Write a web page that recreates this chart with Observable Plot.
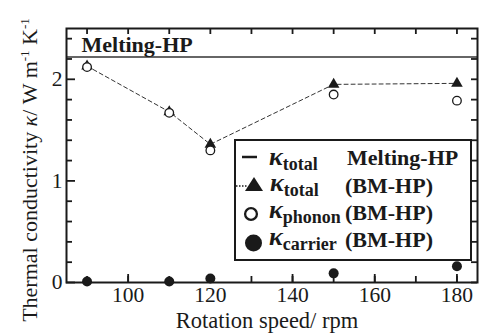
<!DOCTYPE html>
<html><head><meta charset="utf-8">
<script src="https://cdn.jsdelivr.net/npm/d3@7"></script>
<script src="https://cdn.jsdelivr.net/npm/@observablehq/plot@0.6"></script>
<style>
html,body{margin:0;padding:0;background:#fff;}
#chart{width:480px;height:336px;}
</style></head><body><div id="chart"></div>
<script>
// ---- data ----
const speeds = [90, 110, 120, 150, 180];
const kTotalBM = [2.13, 1.68, 1.36, 1.95, 1.96];
const kPhononBM = [2.12, 1.67, 1.30, 1.85, 1.79];
const kCarrierBM = [0.01, 0.01, 0.04, 0.09, 0.16];
const kTotalMelting = [2.22];
const xTickLabels = [100, 120, 140, 160, 180];
const xMinorTicks = [90, 100, 110, 120, 130, 140, 150, 160, 170, 180];
const yTickLabels = [0, 1, 2];
const yMinorTicks = [0.2, 0.4, 0.6, 0.8, 1.2, 1.4, 1.6, 1.8, 2.2, 2.4];
const meltingLabel = ["Melting-HP"];

const bm = speeds.map((s, i) => ({speed: s, total: kTotalBM[i], phonon: kPhononBM[i], carrier: kCarrierBM[i]}));

const W = 480, H = 336, mL = 66, mR = 3, mT = 28, mB = 54;
const iw = W - mL - mR, ih = H - mT - mB;
const serif = '"Liberation Serif", "Tinos", "Nimbus Roman", "DejaVu Serif", serif';
const ink = "#1a1a1a";
const tw = 1.8;

const plot = Plot.plot({
  width: W, height: H,
  marginLeft: mL, marginRight: mR, marginTop: mT, marginBottom: mB,
  x: {domain: [85, 185]},
  y: {domain: [0, 2.5]},
  style: {fontFamily: serif, fontSize: "21px", color: ink, background: "white"},
  marks: [
    Plot.ruleY(kTotalMelting, {stroke: "#333", strokeWidth: 1.5}),
    // bottom / top ticks
    Plot.tickX(xMinorTicks, {x: d => d, insetTop: ih - 6, stroke: ink, strokeWidth: tw}),
    Plot.tickX(xTickLabels, {x: d => d, insetTop: ih - 8, stroke: ink, strokeWidth: tw}),
    Plot.tickX(xMinorTicks, {x: d => d, insetBottom: ih - 6, stroke: ink, strokeWidth: tw}),
    // left / right ticks
    Plot.tickY(yMinorTicks, {y: d => d, insetRight: iw - 6, stroke: ink, strokeWidth: tw}),
    Plot.tickY(yTickLabels, {y: d => d, insetRight: iw - 9, stroke: ink, strokeWidth: tw}),
    Plot.tickY(yMinorTicks.concat(yTickLabels), {y: d => d, insetLeft: iw - 6, stroke: ink, strokeWidth: tw}),
    Plot.axisX(xTickLabels, {tickSize: 0, tickPadding: 4, fontSize: 21.5, label: null, tickFormat: d => String(d), fontFamily: serif}),
    Plot.axisY(yTickLabels, {tickSize: 0, tickPadding: 4, fontSize: 21.5, label: null, tickFormat: d => String(d), fontFamily: serif}),
    Plot.frame({stroke: ink, strokeWidth: 2}),
    Plot.text(meltingLabel, {frameAnchor: "top-left", text: d => d, dx: 15, dy: 23.5, textAnchor: "start", lineAnchor: "bottom", fontSize: 22, fontWeight: "bold", fill: ink, fontFamily: serif}),
    Plot.line(bm, {x: "speed", y: "total", stroke: "#333", strokeWidth: 1, strokeDasharray: "4,3"}),
    Plot.dot(bm, {x: "speed", y: "total", symbol: "triangle", r: 4.3, fill: ink, stroke: "none"}),
    Plot.dot(bm, {x: "speed", y: "phonon", symbol: "circle", r: 4.3, fill: "white", stroke: ink, strokeWidth: 1.3}),
    Plot.dot(bm, {x: "speed", y: "carrier", symbol: "circle", r: 5, fill: ink, stroke: "none"}),
    Plot.text(["Rotation speed/ rpm"], {frameAnchor: "bottom", text: d => d, dx: -5, dy: 38, lineAnchor: "middle", fontSize: 22.5, fill: ink, fontFamily: serif})
  ]
});

document.getElementById("chart").appendChild(plot);

const svg = d3.select(plot);
// y-axis title with superscripts
const yt = svg.append("text")
  .attr("transform", "translate(37,170) rotate(-90)")
  .attr("text-anchor", "middle")
  .style("font-family", serif).attr("font-size", 22).attr("fill", ink);
yt.append("tspan").text("Thermal conductivity ");
yt.append("tspan").attr("font-style", "italic").text("κ");
yt.append("tspan").text("/ W m");
yt.append("tspan").attr("font-size", 13).attr("dy", -8).text("-1");
yt.append("tspan").attr("dy", 8).text(" K");
yt.append("tspan").attr("font-size", 13).attr("dy", -8).text("-1");

// legend
const lg = svg.append("g").style("font-family", serif).attr("fill", ink).attr("font-weight", "bold").attr("text-anchor", "start");
lg.append("rect").attr("x", 235).attr("y", 140).attr("width", 236).attr("height", 120)
  .attr("fill", "white").attr("stroke", ink).attr("stroke-width", 2);
// symbols
lg.append("line").attr("x1", 242).attr("x2", 257).attr("y1", 157).attr("y2", 157).attr("stroke", ink).attr("stroke-width", 2.5);
lg.append("line").attr("x1", 236).attr("x2", 248).attr("y1", 186).attr("y2", 186).attr("stroke", ink).attr("stroke-width", 1.5).attr("stroke-dasharray", "1.5,1.5");
lg.append("path").attr("d", "M254,177L263,191L245,191Z").attr("fill", ink);
lg.append("circle").attr("cx", 251).attr("cy", 214).attr("r", 5.9).attr("fill", "white").attr("stroke", ink).attr("stroke-width", 2.3);
lg.append("circle").attr("cx", 253.5).attr("cy", 243).attr("r", 8.5).attr("fill", ink);
// labels
const rows = [
  {sub: "total", base: 165, x: 269, tag: "Melting-HP", tx: 347, ty: 164.5},
  {sub: "total", base: 191, x: 270, tag: "(BM-HP)", tx: 345, ty: 192.5},
  {sub: "phonon", base: 218, x: 269, tag: "(BM-HP)", tx: 345, ty: 220},
  {sub: "carrier", base: 245, x: 269, tag: "(BM-HP)", tx: 345, ty: 247}
];
rows.forEach(r => {
  const t = lg.append("text").attr("x", r.x).attr("y", r.base);
  t.append("tspan").attr("font-style", "italic").attr("font-size", 26).text("κ");
  t.append("tspan").attr("font-size", 18).attr("dy", 5).text(r.sub);
  lg.append("text").attr("x", r.tx).attr("y", r.ty).attr("font-size", 22).text(r.tag);
});
</script>
</body></html>
